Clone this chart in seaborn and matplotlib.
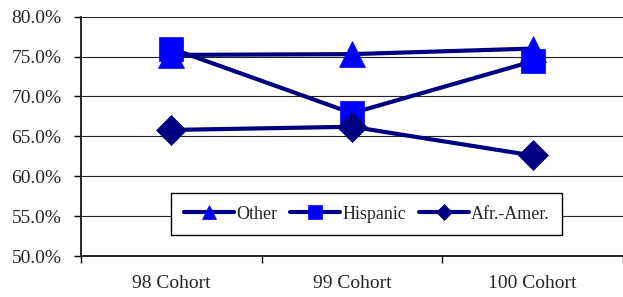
import pandas as pd
import matplotlib
matplotlib.use("Agg")
import matplotlib.pyplot as plt
import seaborn as sns
from matplotlib.ticker import FuncFormatter

cohorts = ["98 Cohort", "99 Cohort", "100 Cohort"]
other = [75.2, 75.3, 76.0]
hispanic = [76.0, 67.9, 74.4]
afr_amer = [65.8, 66.2, 62.6]

series = [
    ("Other", other, "^", "#0000FF", 19),
    ("Hispanic", hispanic, "s", "#0000FF", 17.5),
    ("Afr.-Amer.", afr_amer, "D", "#000080", 15),
]

sns.set_style("white")
plt.rcParams["font.family"] = ["Liberation Serif", "DejaVu Serif"]

fig = plt.figure(figsize=(6.23, 2.97), dpi=100)
ax = fig.add_axes([0.130, 0.138, 0.870, 0.806])

for name, vals, mk, mcol, ms in series:
    df = pd.DataFrame({"cohort": cohorts, "rate": vals})
    sns.lineplot(data=df, x="cohort", y="rate", ax=ax, color="#000080",
                 linewidth=3.0, marker=mk, markersize=ms,
                 markerfacecolor=mcol, markeredgecolor=mcol,
                 markeredgewidth=0.5, label=name, sort=False)

ax.set_ylim(50, 80)
ax.set_xlim(-0.5, 2.5)
ax.set_yticks(range(50, 81, 5))
ax.yaxis.set_major_formatter(FuncFormatter(lambda v, p: f"{v:.1f}%"))
ax.grid(axis="y", color="#222222", linewidth=0.8)
ax.grid(axis="x", visible=False)
ax.set_axisbelow(True)

ax.set_xticks(range(len(cohorts)))
ax.set_xticklabels(cohorts)
ax.set_xticks([-0.5, 0.5, 1.5, 2.5], minor=True)
ax.tick_params(axis="x", which="major", length=0, pad=14, labelsize=14)
ax.tick_params(axis="x", which="minor", length=5, width=1, direction="out",
               bottom=True, color="black")
ax.tick_params(axis="y", length=5, width=1, direction="out", left=True,
               labelsize=14, pad=9, color="black")
ax.set_xlabel("")
ax.set_ylabel("")

for s in ["top", "right"]:
    ax.spines[s].set_visible(False)
for s in ["left", "bottom"]:
    ax.spines[s].set_color("black")
    ax.spines[s].set_linewidth(1.2)

leg = ax.legend(loc="center", bbox_to_anchor=(0.527, 0.175), ncol=3,
                fontsize=13, frameon=True, fancybox=False, framealpha=1,
                edgecolor="black", markerscale=0.55, handlelength=2.8,
                handletextpad=0.1, columnspacing=0.7, borderpad=0.7)
leg.get_frame().set_linewidth(1.0)

fig.savefig("out.png", dpi=100)
